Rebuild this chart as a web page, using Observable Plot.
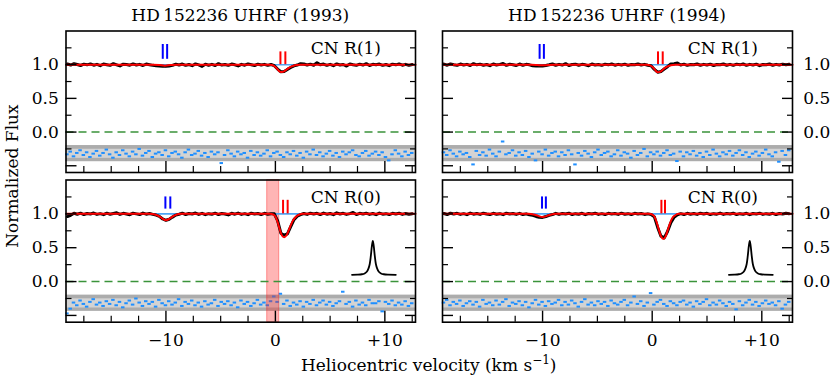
<!DOCTYPE html>
<html><head><meta charset="utf-8">
<script src="https://cdn.jsdelivr.net/npm/d3@7"></script>
<script src="https://cdn.jsdelivr.net/npm/@observablehq/plot@0.6"></script>
<style>
html,body{margin:0;padding:0;background:#fff;}
#fig{position:relative;width:830px;height:382px;font-family:"DejaVu Serif",serif;}
#fig svg{position:absolute;left:0;top:0;}
</style></head><body><div id="fig"></div>
<script>
// ---------- data ----------
const vStart = -19.0, vStep = 0.3;           // velocity grid of the spectra (km/s)
const xDomain = [-19.13, 12.8], yDomain = [-0.6, 1.5];
const xMajor = [-10, 0, 10];
const xMinor = [-17.5, -15, -12.5, -7.5, -5, -2.5, 2.5, 5, 7.5, 12.5];
const yMajor = [-0.5, 0, 0.5, 1.0];
const yMinor = [-0.25, 0.25, 0.75, 1.25];
const titles = ["HD\u2009152236 UHRF (1993)", "HD\u2009152236 UHRF (1994)"];
const lineLabels = ["CN R(1)", "CN R(0)"];

const flux93R1 = [
1.010,0.995,1.015,1.003,0.988,1.008,0.998,1.012,0.992,1.005,
0.985,1.010,1.000,0.990,1.015,0.998,0.982,1.008,1.003,0.992,
1.012,0.995,1.005,0.988,1.010,1.000,0.990,0.985,0.982,0.978,
0.975,0.982,0.990,1.008,0.995,1.010,0.990,1.003,0.985,1.012,
0.998,0.975,1.008,0.992,1.005,0.988,1.015,0.995,1.003,0.990,
1.010,0.998,0.982,1.005,0.992,1.012,1.000,0.988,1.008,0.995,
1.005,0.990,1.003,0.985,0.935,0.895,0.900,0.930,0.958,0.982,
0.995,1.015,1.010,0.995,1.008,0.992,1.030,0.998,1.010,0.990,
1.005,0.985,1.012,0.995,1.003,0.980,1.010,0.998,0.990,1.008,
0.995,1.015,0.988,1.005,0.998,1.010,0.990,1.003,0.985,1.008,
0.998,1.012,0.992,1.005,0.990,1.003];
const res93R1 = [
-0.33,-0.29,-0.36,-0.31,-0.27,-0.34,-0.30,-0.37,-0.32,-0.28,
-0.35,-0.31,-0.26,-0.33,-0.38,-0.30,-0.34,-0.27,-0.32,-0.36,
-0.29,-0.33,-0.25,-0.35,-0.31,-0.28,-0.37,-0.32,-0.30,-0.34,
-0.27,-0.36,-0.31,-0.29,-0.33,-0.38,-0.30,-0.26,-0.34,-0.32,
-0.28,-0.35,-0.31,-0.37,-0.29,-0.33,-0.30,-0.46,-0.34,-0.27,
-0.32,-0.36,-0.29,-0.33,-0.31,-0.38,-0.28,-0.34,-0.30,-0.35,
-0.32,-0.27,-0.36,-0.31,-0.29,-0.34,-0.37,-0.30,-0.33,-0.28,
-0.35,-0.31,-0.38,-0.29,-0.33,-0.26,-0.34,-0.30,-0.36,-0.32,
-0.28,-0.35,-0.31,-0.37,-0.29,-0.33,-0.30,-0.27,-0.34,-0.36,
-0.31,-0.28,-0.35,-0.32,-0.29,-0.34,-0.30,-0.37,-0.42,-0.33,
-0.27,-0.32,-0.36,-0.29,-0.34,-0.31];
const modelV93R1 = [-19.1,-11.2,-10.6,-10.1,-9.6,-9.0,-0.6,-0.3,0.0,0.2,0.4,0.6,0.8,1.0,1.2,1.5,1.8,2.2,12.8];
const modelF93R1 = [1.0,1.0,0.995,0.986,0.994,1.0,1.0,0.995,0.965,0.93,0.897,0.89,0.90,0.925,0.95,0.975,0.992,1.0,1.0];
const blue93R1 = [-10.29, -9.89], red93R1 = [0.46, 0.91];

const flux93R0 = [
0.960,0.978,1.008,0.995,1.010,0.990,1.005,0.998,1.012,0.992,
1.003,0.988,1.010,0.995,1.005,1.015,0.992,1.008,0.998,0.988,
1.010,1.000,0.990,1.012,0.995,1.005,0.992,0.982,0.962,0.925,
0.905,0.920,0.952,0.982,0.995,1.010,0.990,1.005,0.998,1.012,
0.992,1.008,0.988,1.003,0.995,1.010,0.990,1.005,0.998,0.985,
1.008,0.995,1.012,0.992,1.003,0.988,1.010,0.998,1.005,0.990,
1.008,0.995,1.003,1.000,0.900,0.715,0.685,0.705,0.810,0.915,
0.965,0.988,1.005,0.992,1.010,0.998,1.008,0.990,1.012,0.995,
1.005,0.988,1.015,0.998,1.008,0.992,1.003,1.020,0.990,1.008,
0.998,1.010,0.992,1.005,0.988,1.012,0.995,1.003,0.990,1.008,
0.998,1.010,0.992,1.005,0.995,1.003];
const res93R0 = [
-0.47,-0.40,-0.31,-0.35,-0.28,-0.33,-0.37,-0.30,-0.26,-0.34,
-0.31,-0.36,-0.29,-0.33,-0.27,-0.35,-0.30,-0.38,-0.32,-0.28,
-0.34,-0.25,-0.31,-0.36,-0.29,-0.33,-0.30,-0.37,-0.27,-0.32,
-0.35,-0.29,-0.34,-0.31,-0.26,-0.36,-0.30,-0.33,-0.28,-0.35,
-0.31,-0.37,-0.29,-0.34,-0.32,-0.27,-0.36,-0.30,-0.33,-0.29,
-0.35,-0.31,-0.38,-0.28,-0.33,-0.30,-0.36,-0.32,-0.27,-0.34,
-0.31,-0.35,-0.29,-0.22,-0.30,-0.18,-0.33,-0.28,-0.36,-0.31,
-0.34,-0.29,-0.37,-0.30,-0.33,-0.27,-0.35,-0.31,-0.28,-0.34,
-0.30,-0.36,-0.32,-0.29,-0.15,-0.33,-0.30,-0.37,-0.28,-0.34,
-0.31,-0.35,-0.27,-0.32,-0.32,-0.29,-0.44,-0.30,-0.33,-0.28,
-0.35,-0.31,-0.34,-0.29,-0.36,-0.32];
const modelV93R0 = [-19.1,-11.5,-11.0,-10.6,-10.3,-10.0,-9.7,-9.4,-9.0,-8.6,-0.5,-0.2,0.0,0.2,0.4,0.6,0.8,1.0,1.2,1.4,1.6,1.9,2.2,2.5,12.8];
const modelF93R0 = [1.0,1.0,0.99,0.962,0.928,0.907,0.925,0.96,0.99,1.0,1.0,0.99,0.96,0.88,0.77,0.68,0.655,0.68,0.75,0.83,0.90,0.96,0.99,1.0,1.0];
const blue93R0 = [-10.05, -9.6], red93R0 = [0.70, 1.12];
const maskBand93R0 = [-0.75, 0.35];

const flux94R1 = [
1.008,0.992,1.012,1.000,0.990,1.010,0.995,1.005,0.988,1.015,
0.998,1.008,0.992,1.003,0.985,1.010,0.995,1.005,1.018,0.990,
1.008,0.998,0.988,1.010,0.992,1.005,0.998,0.985,0.982,0.980,
0.982,0.988,0.998,1.010,0.992,1.005,0.995,1.015,0.988,1.003,
1.008,0.992,1.005,0.998,0.985,1.010,0.995,1.003,0.990,1.008,
0.998,1.012,0.992,1.005,0.995,1.008,0.990,1.003,0.998,1.010,
0.995,1.005,0.992,0.985,0.930,0.888,0.900,0.935,0.970,1.012,
1.015,1.025,0.995,1.008,0.990,1.003,0.998,1.010,0.992,1.005,
0.995,1.008,0.988,1.003,0.998,1.010,0.992,1.005,0.990,1.008,
0.998,1.012,0.990,1.005,0.995,1.008,0.985,1.003,0.998,1.010,
0.992,1.005,0.995,1.008,0.998,1.005];
const res94R1 = [
-0.30,-0.34,-0.27,-0.32,-0.36,-0.29,-0.33,-0.31,-0.37,-0.48,
-0.28,-0.34,-0.30,-0.35,-0.26,-0.32,-0.36,-0.29,-0.14,-0.33,
-0.31,-0.27,-0.35,-0.30,-0.34,-0.28,-0.37,-0.32,-0.42,-0.29,
-0.33,-0.26,-0.35,-0.31,-0.29,-0.36,-0.30,-0.34,-0.27,-0.33,
-0.48,-0.31,-0.35,-0.28,-0.32,-0.37,-0.30,-0.26,-0.34,-0.31,
-0.29,-0.36,-0.33,-0.27,-0.35,-0.30,-0.32,-0.38,-0.28,-0.34,
-0.31,-0.25,-0.36,-0.30,-0.33,-0.29,-0.35,-0.31,-0.27,-0.34,
-0.32,-0.43,-0.29,-0.36,-0.30,-0.33,-0.28,-0.35,-0.31,-0.37,
-0.29,-0.34,-0.26,-0.32,-0.36,-0.30,-0.33,-0.28,-0.35,-0.31,
-0.27,-0.34,-0.30,-0.37,-0.32,-0.29,-0.35,-0.31,-0.26,-0.33,
-0.36,-0.30,-0.44,-0.28,-0.34,-0.27];
const modelV94R1 = [-19.1,-11.0,-10.5,-10.0,-9.5,-9.0,-0.5,-0.2,0.1,0.3,0.5,0.7,0.9,1.1,1.4,1.7,2.1,12.8];
const modelF94R1 = [1.0,1.0,0.996,0.99,0.996,1.0,1.0,0.99,0.955,0.915,0.888,0.893,0.915,0.945,0.975,0.993,1.0,1.0];
const blue94R1 = [-10.27, -9.88], red94R1 = [0.53, 0.96];

const flux94R0 = [
1.005,0.990,1.010,0.998,1.008,0.992,1.003,0.988,1.012,0.995,
1.005,0.992,1.010,0.998,0.990,1.008,0.995,1.003,0.988,1.010,
0.998,1.005,0.992,1.008,0.990,1.000,0.985,0.978,0.962,0.950,
0.948,0.960,0.978,0.990,1.008,0.992,1.005,0.998,1.010,0.990,
1.003,0.995,1.008,0.988,1.005,0.998,1.010,0.992,1.003,0.990,
1.008,0.998,1.005,0.992,1.010,0.995,1.003,0.990,1.008,0.998,
1.005,0.992,1.000,0.990,0.955,0.800,0.670,0.645,0.740,0.870,
0.950,0.985,1.003,0.990,1.008,0.995,1.005,0.992,1.010,0.998,
1.008,0.990,1.003,0.995,1.012,0.992,1.005,0.998,1.010,0.990,
1.003,0.995,1.008,0.988,1.005,0.998,1.010,0.992,1.003,0.995,
1.008,0.990,1.005,0.998,1.010,1.003];
const res94R0 = [
-0.31,-0.27,-0.35,-0.30,-0.33,-0.28,-0.36,-0.32,-0.29,-0.34,
-0.30,-0.37,-0.27,-0.33,-0.31,-0.35,-0.28,-0.34,-0.30,-0.26,
-0.36,-0.31,-0.33,-0.29,-0.35,-0.30,-0.38,-0.32,-0.27,-0.34,
-0.30,-0.36,-0.29,-0.33,-0.31,-0.27,-0.35,-0.30,-0.34,-0.28,
-0.32,-0.37,-0.30,-0.26,-0.34,-0.31,-0.35,-0.29,-0.33,-0.30,
-0.36,-0.28,-0.32,-0.34,-0.30,-0.27,-0.35,-0.31,-0.22,-0.33,
-0.29,-0.36,-0.31,-0.17,-0.34,-0.30,-0.27,-0.33,-0.36,-0.29,
-0.32,-0.35,-0.30,-0.28,-0.34,-0.31,-0.37,-0.29,-0.33,-0.30,
-0.26,-0.35,-0.31,-0.34,-0.28,-0.32,-0.36,-0.30,-0.33,-0.41,
-0.29,-0.35,-0.31,-0.27,-0.34,-0.30,-0.36,-0.32,-0.28,-0.33,
-0.31,-0.35,-0.29,-0.40,-0.34,-0.30];
const modelV94R0 = [-19.1,-11.3,-10.8,-10.4,-10.0,-9.6,-9.2,-8.8,-0.3,0.0,0.2,0.4,0.6,0.8,1.0,1.2,1.4,1.6,1.8,2.1,2.4,12.8];
const modelF94R0 = [1.0,1.0,0.99,0.97,0.953,0.97,0.99,1.0,1.0,0.99,0.96,0.88,0.77,0.67,0.63,0.66,0.75,0.85,0.93,0.98,1.0,1.0];
const blue94R0 = [-10.05, -9.7], red94R0 = [0.84, 1.17];

// instrumental profile (offsets from its centre, flux)
const profCenter = 8.9;
const profOffset = [-1.9,-1.4,-1.0,-0.75,-0.55,-0.4,-0.28,-0.18,-0.08,0,0.08,0.18,0.28,0.4,0.55,0.75,1.0,1.4,2.1];
const profFlux   = [0.10,0.102,0.108,0.12,0.145,0.19,0.26,0.38,0.53,0.60,0.53,0.38,0.26,0.19,0.145,0.12,0.108,0.102,0.10];

// residual band (offset residual zero, shaded ranges)
const bandOuter = [-0.44, -0.20];
const bandInner = [-0.39, -0.255];

// ---------- layout / style ----------
const W = 830, H = 382;
const colBox = [[65.5, 415], [442, 792]];
const rowBox = [[30.5, 172], [179.5, 321.7]];
const blueY = [[1.08, 1.30], [1.07, 1.25]];
const redY = [[1.0, 1.19], [1.0, 1.2]];
const FONT = "DejaVu Serif";
const fmtX = d => d > 0 ? "+" + d : d < 0 ? "\u2212" + (-d) : "0";
const fmtY = d => d < 0 ? "" : d.toFixed(1);
const blank = () => "";

const panels = [
  {col:0,row:0,flux:flux93R1,res:res93R1,mv:modelV93R1,mf:modelF93R1,blue:blue93R1,red:red93R1},
  {col:0,row:1,flux:flux93R0,res:res93R0,mv:modelV93R0,mf:modelF93R0,blue:blue93R0,red:red93R0,band:maskBand93R0,prof:true},
  {col:1,row:0,flux:flux94R1,res:res94R1,mv:modelV94R1,mf:modelF94R1,blue:blue94R1,red:red94R1},
  {col:1,row:1,flux:flux94R0,res:res94R0,mv:modelV94R0,mf:modelF94R0,blue:blue94R0,red:red94R0,prof:true}
];

const fig = document.getElementById("fig");

for (const p of panels) {
  const [xl, xr] = colBox[p.col], [yt, yb] = rowBox[p.row];
  const spec = p.flux.map((f, i) => ({v: vStart + i * vStep, f, r: p.res[i]}));
  const model = p.mv.map((v, i) => ({v, f: p.mf[i]}));
  const marks = [
    Plot.rect([bandOuter], {y1: d => d[0], y2: d => d[1], fill: "#acacac"}),
    Plot.rect([bandInner], {y1: d => d[0], y2: d => d[1], fill: "#d3d3d3"}),
    Plot.ruleY(spec, {y: "r", x1: d => d.v - 0.16, x2: d => d.v + 0.16, stroke: "#1f8fff", strokeWidth: 2})
  ];
  if (p.band) marks.push(Plot.rect([p.band], {x1: d => d[0], x2: d => d[1], fill: "#ff1a1a", fillOpacity: 0.32, stroke: "#ff1a1a", strokeOpacity: 0.4, strokeWidth: 1}));
  marks.push(
    Plot.ruleY([0], {stroke: "#3a933a", strokeWidth: 1.6, strokeDasharray: "8,5"}),
    Plot.ruleY([1], {stroke: "#4ea6f5", strokeWidth: 1.6}),
    Plot.line(spec, {x: "v", y: "f", stroke: "black", strokeWidth: 3, strokeLinejoin: "round"}),
    Plot.line(model, {x: "v", y: "f", stroke: "#ff0000", strokeWidth: 2, curve: "monotone-x"}),
    Plot.ruleX(p.blue, {x: d => d, y1: blueY[p.row][0], y2: blueY[p.row][1], stroke: "#0000ff", strokeWidth: 2}),
    Plot.ruleX(p.red, {x: d => d, y1: redY[p.row][0], y2: redY[p.row][1], stroke: "#ff0000", strokeWidth: 2}),
    Plot.text([lineLabels[p.row]], {frameAnchor: "top-right", textAnchor: "end", lineAnchor: "bottom", dx: -34.5, dy: 23, fontSize: 17, fill: "black"})
  );
  if (p.prof) marks.push(Plot.line(profOffset.map((o, i) => ({v: profCenter + o, f: profFlux[i]})), {x: "v", y: "f", stroke: "black", strokeWidth: 1.8, curve: "catmull-rom"}));
  marks.push(
    Plot.axisX({anchor: "bottom", ticks: xMajor, tickSize: -11, tickPadding: 22.3, tickFormat: p.row === 1 ? fmtX : blank, label: null, strokeWidth: 1.4, fontSize: 17}),
    Plot.axisX({anchor: "bottom", ticks: xMinor, tickSize: -6, tickPadding: 0, tickFormat: blank, label: null, strokeWidth: 1.2}),
    Plot.axisY({anchor: "left", ticks: yMajor, tickSize: -11, tickPadding: 18.2, tickFormat: p.col === 0 ? fmtY : blank, label: null, strokeWidth: 1.4, fontSize: 17}),
    Plot.axisY({anchor: "left", ticks: yMinor, tickSize: -6, tickPadding: 0, tickFormat: blank, label: null, strokeWidth: 1.2}),
    Plot.axisY({anchor: "right", ticks: yMajor, tickSize: -11, tickPadding: 21.7, tickFormat: p.col === 1 ? fmtY : blank, label: null, strokeWidth: 1.4, fontSize: 17}),
    Plot.axisY({anchor: "right", ticks: yMinor, tickSize: -6, tickPadding: 0, tickFormat: blank, label: null, strokeWidth: 1.2}),
    Plot.frame({stroke: "black", strokeWidth: 1.6})
  );
  const svg = Plot.plot({
    width: W, height: H,
    marginLeft: xl, marginRight: W - xr, marginTop: yt, marginBottom: H - yb,
    x: {domain: xDomain}, y: {domain: yDomain},
    style: {fontFamily: FONT, fontSize: "17px", background: "transparent", overflow: "visible", color: "black"},
    marks
  });
  fig.appendChild(svg);
}

// overall titles and axis labels
const ov = d3.select(fig).append("svg").attr("width", W).attr("height", H)
  .style("font-family", FONT).style("font-size", "17px");
titles.forEach((t, i) => {
  ov.append("text").attr("x", (colBox[i][0] + colBox[i][1]) / 2).attr("y", 20.7)
    .attr("text-anchor", "middle").text(t);
});
ov.append("text").attr("transform", `translate(18,${(rowBox[0][0] + rowBox[1][1]) / 2}) rotate(-90)`)
  .attr("text-anchor", "middle").text("Normalized Flux");
const xl = ov.append("text").attr("x", (colBox[0][0] + colBox[1][1]) / 2).attr("y", 371).attr("text-anchor", "middle");
xl.append("tspan").text("Heliocentric velocity (km s");
xl.append("tspan").attr("dy", -7).style("font-size", "12px").text("\u22121");
xl.append("tspan").attr("dy", 7).text(")");
</script>
</body></html>
